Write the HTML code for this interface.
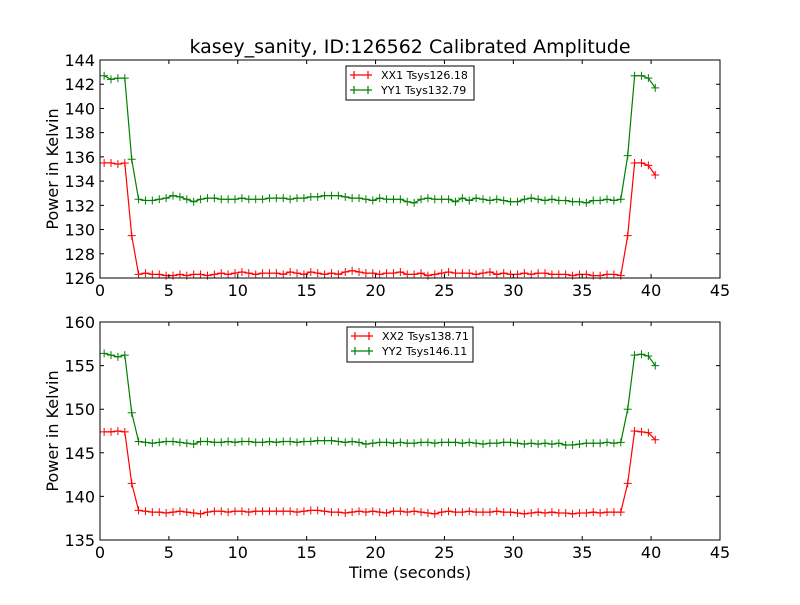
<!DOCTYPE html>
<html><head><meta charset="utf-8"><style>
body{margin:0;background:#fff;font-family:"Liberation Sans","DejaVu Sans",sans-serif}
svg text{font-family:"DejaVu Sans","Liberation Sans",sans-serif}
</style></head><body>
<svg id="c" width="800" height="600" xmlns="http://www.w3.org/2000/svg">
<rect width="800" height="600" fill="#fff"/>
<text x="410" y="53" font-size="19" text-anchor="middle">kasey_sanity, ID:126562 Calibrated Amplitude</text>
</svg>
<script>
const xTicks=[0,5,10,15,20,25,30,35,40,45];
const yTicksTop=[126,128,130,132,134,136,138,140,142,144];
const yTicksBot=[135,140,145,150,155,160];
const xx1Low=[126.3,126.4,126.3,126.3,126.2,126.2,126.3,126.2,126.3,126.3,126.2,126.3,126.4,126.3,126.4,126.5,126.4,126.3,126.4,126.4,126.4,126.3,126.5,126.4,126.3,126.5,126.4,126.3,126.4,126.3,126.5,126.6,126.5,126.4,126.4,126.3,126.4,126.4,126.5,126.3,126.3,126.4,126.2,126.3,126.4,126.5,126.4,126.4,126.4,126.3,126.4,126.5,126.3,126.4,126.3,126.3,126.4,126.3,126.4,126.4,126.3,126.3,126.3,126.2,126.3,126.3,126.2,126.2,126.3,126.3,126.2];
const yy1Low=[132.5,132.4,132.4,132.5,132.6,132.8,132.7,132.5,132.3,132.5,132.6,132.6,132.5,132.5,132.5,132.6,132.5,132.5,132.5,132.6,132.6,132.6,132.5,132.6,132.6,132.7,132.7,132.8,132.8,132.8,132.7,132.6,132.6,132.5,132.4,132.6,132.5,132.5,132.5,132.3,132.2,132.5,132.6,132.5,132.5,132.5,132.3,132.6,132.4,132.6,132.5,132.4,132.5,132.4,132.3,132.3,132.5,132.6,132.5,132.4,132.5,132.4,132.4,132.3,132.3,132.2,132.4,132.4,132.5,132.4,132.5];
const xx2Low=[138.4,138.3,138.2,138.2,138.1,138.2,138.3,138.2,138.1,138.0,138.2,138.3,138.3,138.2,138.3,138.3,138.2,138.3,138.3,138.3,138.3,138.3,138.3,138.2,138.3,138.4,138.4,138.3,138.2,138.2,138.1,138.2,138.3,138.2,138.3,138.2,138.1,138.3,138.3,138.2,138.3,138.2,138.1,138.0,138.2,138.3,138.2,138.2,138.3,138.2,138.2,138.2,138.3,138.2,138.2,138.1,138.0,138.1,138.2,138.1,138.2,138.1,138.1,138.0,138.1,138.1,138.2,138.1,138.2,138.2,138.2];
const yy2Low=[146.3,146.2,146.1,146.2,146.3,146.3,146.2,146.1,146.0,146.3,146.3,146.2,146.2,146.3,146.2,146.3,146.3,146.2,146.2,146.3,146.2,146.3,146.3,146.2,146.3,146.3,146.4,146.4,146.4,146.3,146.2,146.3,146.2,146.0,146.1,146.2,146.2,146.1,146.2,146.1,146.1,146.2,146.2,146.1,146.2,146.2,146.2,146.1,146.2,146.1,146.0,146.1,146.1,146.2,146.2,146.1,146.0,146.1,146.0,146.1,146.0,146.1,145.9,145.9,146.0,146.1,146.1,146.1,146.2,146.1,146.2];
const xx1Head=[135.5,135.5,135.4,135.5], xx1Mid=[129.5,129.5], xx1Tail=[135.5,135.5,135.3,134.5];
const yy1Head=[142.7,142.4,142.5,142.5], yy1Mid=[135.8,136.1], yy1Tail=[142.7,142.7,142.5,141.7];
const xx2Head=[147.4,147.4,147.5,147.4], xx2Mid=[141.5,141.5], xx2Tail=[147.5,147.4,147.3,146.5];
const yy2Head=[156.4,156.2,156.0,156.2], yy2Mid=[149.6,150.0], yy2Tail=[156.2,156.3,156.1,155.0];
const legendTop=["XX1 Tsys126.18","YY1 Tsys132.79"];
const legendBot=["XX2 Tsys138.71","YY2 Tsys146.11"];

const NS="http://www.w3.org/2000/svg", svg=document.getElementById('c');
function mk(tag,attrs,parent){const e=document.createElementNS(NS,tag);for(const k in attrs)e.setAttribute(k,attrs[k]);(parent||svg).appendChild(e);return e;}
function series(h,m,low,t){return h.concat([m[0]],low,[m[1]],t);}
function times(n){const a=[];for(let i=0;i<n;i++)a.push(0.3+0.5*i);return a;}
const L=100,R=720;
function xs(v){return L+(v-0)/45*(R-L);}
function panel(top,bot,ymin,ymax,yt,ser,leg,legBox,showX,pname){
  const ys=v=>bot-(v-ymin)/(ymax-ymin)*(bot-top);
  const g=mk('g',{});
  
  
  ser.forEach(s=>{
    const t=times(s.v.length);
    const pts=s.v.map((v,i)=>xs(t[i]).toFixed(1)+','+ys(v).toFixed(1)).join(' ');
    const pl=mk('polyline',{points:pts,fill:'none',stroke:s.c,'stroke-width':1.2},g);
    
    
    let d='';
    s.v.forEach((v,i)=>{const x=xs(t[i]),y=ys(v);d+=`M${x-4},${y}h8M${x},${y-4}v8`;});
    const mp=mk('path',{d:d,stroke:s.c,'stroke-width':1},g);
    
    
  });
  const fr=mk('rect',{x:L,y:top,width:R-L,height:bot-top,fill:'none',stroke:'#000','stroke-width':1},g);
  
  
  xTicks.forEach(v=>{
    const x=xs(v);
    mk('path',{d:`M${x},${bot}v-4M${x},${top}v4`,stroke:'#000'},g);
    const tx=mk('text',{x:x,y:bot+18,'font-size':16,'text-anchor':'middle'},g);
    tx.textContent=v;
    
    
  });
  yt.forEach(v=>{
    const y=ys(v);
    mk('path',{d:`M${L},${y}h4M${R},${y}h-4`,stroke:'#000'},g);
    const tx=mk('text',{x:L-5,y:y+6,'font-size':16,'text-anchor':'end'},g);
    tx.textContent=v;
    
    
  });
  const yl=mk('text',{x:0,y:0,'font-size':16,'text-anchor':'middle',transform:`translate(58,${(top+bot)/2}) rotate(-90)`},g);
  yl.textContent='Power in Kelvin';
  
  
  const lg=mk('g',{},g);
  
  
  mk('rect',{x:legBox[0],y:legBox[1],width:legBox[2],height:legBox[3],fill:'#fff',stroke:'#000'},lg);
  leg.forEach((txt,i)=>{
    const y=legBox[1]+9+i*15, c=ser[i].c, x0=legBox[0]+4;
    mk('path',{d:`M${x0},${y}h22M${x0+4},${y-4}v8M${x0+18},${y-4}v8`,stroke:c,'stroke-width':1.2},lg);
    const tx=mk('text',{x:x0+31,y:y+4,'font-size':11},lg);
    tx.textContent=txt;
    
    
  });
}
panel(60,278,126,144,yTicksTop,[
  {n:'xx1',c:'#ff0000',v:series(xx1Head,xx1Mid,xx1Low,xx1Tail)},
  {n:'yy1',c:'#008000',v:series(yy1Head,yy1Mid,yy1Low,yy1Tail)}],legendTop,[346,66,128,34],true,'top-panel');
panel(322,540,135,160,yTicksBot,[
  {n:'xx2',c:'#ff0000',v:series(xx2Head,xx2Mid,xx2Low,xx2Tail)},
  {n:'yy2',c:'#008000',v:series(yy2Head,yy2Mid,yy2Low,yy2Tail)}],legendBot,[347,327,126,35],true,'bottom-panel');
const xl=mk('text',{x:410,y:578,'font-size':16,'text-anchor':'middle'});
xl.textContent='Time (seconds)';


</script>
</body></html>
